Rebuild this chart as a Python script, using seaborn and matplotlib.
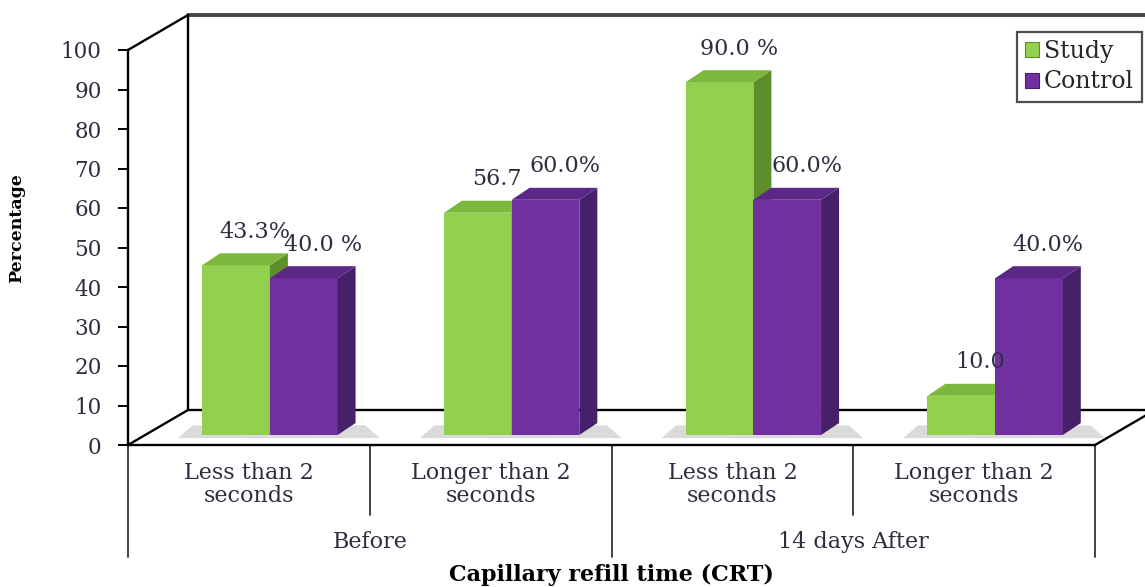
import matplotlib.pyplot as plt
import pandas as pd
import seaborn as sns
from matplotlib.patches import Patch, Polygon

# Chart data
periods = ["Before", "Before", "14 days After", "14 days After"]
crt_levels = ["Less than 2\nseconds", "Longer than 2\nseconds",
              "Less than 2\nseconds", "Longer than 2\nseconds"]
study = [43.3, 56.7, 90.0, 10.0]
control = [40.0, 60.0, 60.0, 40.0]
study_labels = ["43.3%", "56.7", "90.0 %", "10.0"]
control_labels = ["40.0 %", "60.0%", "60.0%", "40.0%"]
y_ticks = list(range(0, 101, 10))

# Build long table for seaborn
slots = [f"{p} | {c}" for p, c in zip(periods, crt_levels)]
df = pd.DataFrame({
    "slot": slots * 2,
    "Percentage": study + control,
    "Group": ["Study"] * 4 + ["Control"] * 4,
})

front_col = {"Study": "#92D050", "Control": "#7030A0"}
side_col = {"Study": "#5E8E2C", "Control": "#47206A"}
top_col = {"Study": "#7DB83E", "Control": "#5C2888"}
text_col = "#2E2E40"

sns.set_theme(style="white")
plt.rcParams["font.family"] = ["DejaVu Serif"]

W, H = 1145, 587
fig = plt.figure(figsize=(W / 100, H / 100), dpi=100)
fig.patch.set_facecolor("white")


def px_axes(left, top, right, bottom):
    return [left / W, 1 - bottom / H, (right - left) / W, (bottom - top) / H]


# Frame overlay in pixel coordinates (3D box edges)
ax_bg = fig.add_axes([0, 0, 1, 1], zorder=0)
ax_bg.set_xlim(0, W)
ax_bg.set_ylim(H, 0)
ax_bg.axis("off")
x_l, x_r, y_top, y_0 = 128, 1095, 50, 445
dx, dy = 60, 35
lk = dict(color="black", lw=1.7, solid_capstyle="round")
ax_bg.plot([x_l, x_l + dx], [y_top, y_top - dy], **lk)
ax_bg.plot([x_l + dx, W], [y_top - dy, y_top - dy], color="#444444", lw=2.8)
ax_bg.plot([x_l + dx, x_l + dx], [y_top - dy, y_0 - dy], **lk)
ax_bg.plot([x_l + dx, W], [y_0 - dy, y_0 - dy], **lk)
ax_bg.plot([x_l, x_l + dx], [y_0, y_0 - dy], **lk)
ax_bg.plot([x_r, x_r + dx], [y_0, y_0 - dy], **lk)

# Bars (front faces) drawn by seaborn, set half-way into the box depth
ax_bar = fig.add_axes(px_axes(x_l + 21, 435 - 392, x_r + 21, 435), zorder=1)
ax_bar.patch.set_alpha(0)
sns.barplot(data=df, x="slot", y="Percentage", hue="Group",
            palette=front_col, width=0.56, saturation=1, errorbar=None,
            ax=ax_bar, linewidth=0)
ax_bar.set_xlim(-0.5, 3.5)
ax_bar.set_ylim(0, 100)
ax_bar.get_legend().remove()
ax_bar.axis("off")

# 3D side/top faces derived from the seaborn bars
ddx = 18 / (967 / 4)
ddy = 12 / 3.92
for k, (cont, grp, labels) in enumerate(zip(ax_bar.containers, ["Study", "Control"],
                                            [study_labels, control_labels])):
    for bar, lab in zip(cont.patches, labels):
        x0, w, h = bar.get_x(), bar.get_width(), bar.get_height()
        x1 = x0 + w
        bar.set_zorder(2 + 2 * k)
        side = Polygon([(x1, 0), (x1 + ddx, ddy), (x1 + ddx, h + ddy), (x1, h)],
                       closed=True, fc=side_col[grp], ec="none", zorder=2.5 + 2 * k,
                       clip_on=False)
        top = Polygon([(x0, h), (x1, h), (x1 + ddx, h + ddy), (x0 + ddx, h + ddy)],
                      closed=True, fc=top_col[grp], ec="none", zorder=2.5 + 2 * k,
                      clip_on=False)
        shadow = Polygon([(x0 - 0.1, -0.8), (x1 + ddx + 0.1, -0.8),
                          (x1 + ddx + 0.04, ddy * 0.8), (x0 - 0.04, ddy * 0.8)],
                         closed=True, fc="#dadada", ec="none", zorder=1.5, clip_on=False)
        ax_bar.add_patch(shadow)
        ax_bar.add_patch(side)
        ax_bar.add_patch(top)
        ax_bar.text(x0 + w / 2 + 0.08, h + 8.5, lab, ha="center", va="center",
                    fontsize=16, color=text_col, zorder=6)

# Front axis with ticks and category labels
ax = fig.add_axes(px_axes(x_l, y_top, x_r, y_0), zorder=2)
ax.patch.set_alpha(0)
ax.set_xlim(-0.5, 3.5)
ax.set_ylim(0, 100)
ax.set_yticks(y_ticks)
ax.tick_params(axis="y", direction="out", length=7, width=1.4, pad=12,
               labelsize=15.5, labelcolor=text_col, left=True, color="black")
ax.set_xticks(range(4))
ax.set_xticklabels(crt_levels, fontsize=16, color=text_col, linespacing=1.05)
ax.tick_params(axis="x", length=0, pad=12)
for s in ["top", "right"]:
    ax.spines[s].set_visible(False)
for s in ["left", "bottom"]:
    ax.spines[s].set_linewidth(1.7)
    ax.spines[s].set_color("black")

trans = ax.get_xaxis_transform()
for xs, depth in zip([-0.5, 0.5, 1.5, 2.5, 3.5], [-0.284, -0.177, -0.284, -0.177, -0.284]):
    ax.plot([xs, xs], [0, depth], transform=trans, color="#333333", lw=1.3, clip_on=False)

for period in ["Before", "14 days After"]:
    pos = [i for i, p in enumerate(periods) if p == period]
    ax.text(sum(pos) / len(pos), -0.245, period, transform=trans, ha="center",
            va="center", fontsize=16, color=text_col)

ax.text(1.5, -0.33, "Capillary refill time (CRT)", transform=trans, ha="center",
        va="center", fontsize=16, fontweight="bold", color="black")
ax.set_ylabel("Percentage", fontsize=12.5, fontweight="bold", color="black")
ax.yaxis.set_label_coords(-0.106, 0.55)

# Legend
handles = [Patch(fc=front_col[g], ec=side_col[g], lw=0.8) for g in ["Study", "Control"]]
leg = fig.legend(handles, ["Study", "Control"], loc="upper right",
                 bbox_to_anchor=(1142 / W, 1 - 32 / H), frameon=True, fancybox=False,
                 fontsize=17, handlelength=0.6, handleheight=0.6, handletextpad=0.2,
                 borderpad=0.35, labelspacing=0.3, borderaxespad=0)
leg.get_frame().set_edgecolor("#222222")
leg.get_frame().set_linewidth(1.6)

fig.savefig("out.png", dpi=100)
